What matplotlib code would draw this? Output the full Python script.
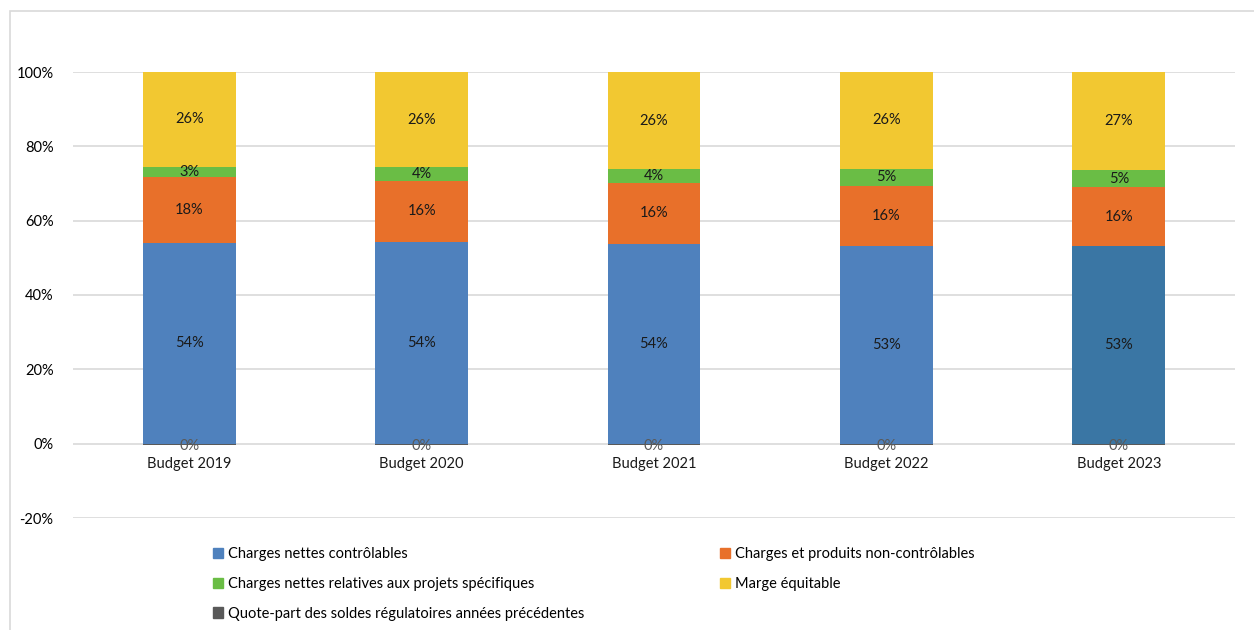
import matplotlib
matplotlib.use('Agg')
import matplotlib.pyplot as plt
from matplotlib.patches import Rectangle, Patch
import numpy as np

plt.rcParams['font.family'] = ['Lato', 'DejaVu Sans']

categories = ['Budget 2019', 'Budget 2020', 'Budget 2021', 'Budget 2022', 'Budget 2023']
controlables = [54.0, 54.3, 53.8, 53.2, 53.1]
non_controlables = [17.8, 16.4, 16.4, 16.2, 15.9]
projets = [2.7, 3.7, 3.7, 4.6, 4.6]
marge = [25.5, 25.6, 26.1, 26.0, 26.6]
quote_part = [-0.4, -0.4, -0.4, -0.4, -0.4]

series_names = ['Charges nettes contrôlables',
                'Charges et produits non-contrôlables',
                'Charges nettes relatives aux projets spécifiques',
                'Marge équitable',
                'Quote-part des soldes régulatoires années précédentes']
colors = ['#4F81BD', '#E8702A', '#6ABD45', '#F2C831', '#595959']
blue_2023 = '#3A76A4'

fig = plt.figure(figsize=(12.54, 6.30), dpi=100)
fig.patches.append(Rectangle((10 / 1254, -0.05), 1.2, 1 - 11 / 630 + 0.05,
                             transform=fig.transFigure, fill=False,
                             edgecolor='#D9D9D9', linewidth=1.2))
ax = fig.add_axes([73 / 1254, (630 - 518) / 630, (1235 - 73) / 1254, (518 - 72) / 630])

x = np.arange(len(categories))
w = 0.4
bottom = np.zeros(len(categories))
stack = [controlables, non_controlables, projets, marge]
for vals, col in zip(stack, colors[:4]):
    vals = np.array(vals)
    bar_cols = [col] * len(categories)
    if col == colors[0]:
        bar_cols[-1] = blue_2023
    ax.bar(x, vals, w, bottom=bottom, color=bar_cols, zorder=3)
    for xi, b, v in zip(x, bottom, vals):
        ax.text(xi, b + v / 2, f'{v:.0f}%', ha='center', va='center',
                fontsize=10.5, color='#1a1a1a', zorder=4)
    bottom += vals

qp = np.array(quote_part)
ax.bar(x, qp, w, color=colors[4], zorder=3)
for xi, v in zip(x, qp):
    ax.text(xi, v / 2 - 0.3, f'{abs(v):.0f}%', ha='center', va='center',
            fontsize=10.5, color='#595959', zorder=4)

ax.set_xlim(-0.5, len(categories) - 0.5)
ax.set_ylim(-20, 100)
ax.set_yticks(np.arange(-20, 101, 20))
ax.set_yticklabels([f'{t}%' for t in range(-20, 101, 20)], fontsize=10.5)
ax.tick_params(axis='y', length=0, pad=14)
ax.set_xticks([])
ax.yaxis.grid(True, color='#D9D9D9', linewidth=1.2, zorder=0)
for s in ax.spines.values():
    s.set_visible(False)

for xi, c in zip(x, categories):
    ax.text(xi, -5.6, c, ha='center', va='center', fontsize=10.5, color='#1a1a1a')

handles = [Patch(color=c) for c in colors]
leg_kw = dict(loc='upper left', frameon=False, fontsize=10.5, handlelength=0.7,
              handleheight=0.7, handletextpad=0.3, labelspacing=1.08)
leg1 = fig.legend([handles[0], handles[2], handles[4]],
                  [series_names[0], series_names[2], series_names[4]],
                  bbox_to_anchor=(200 / 1254, 1 - 534 / 630), **leg_kw)
leg2 = fig.legend([handles[1], handles[3]],
                  [series_names[1], series_names[3]],
                  bbox_to_anchor=(707 / 1254, 1 - 534 / 630), **leg_kw)

fig.savefig('out.png', dpi=100)
